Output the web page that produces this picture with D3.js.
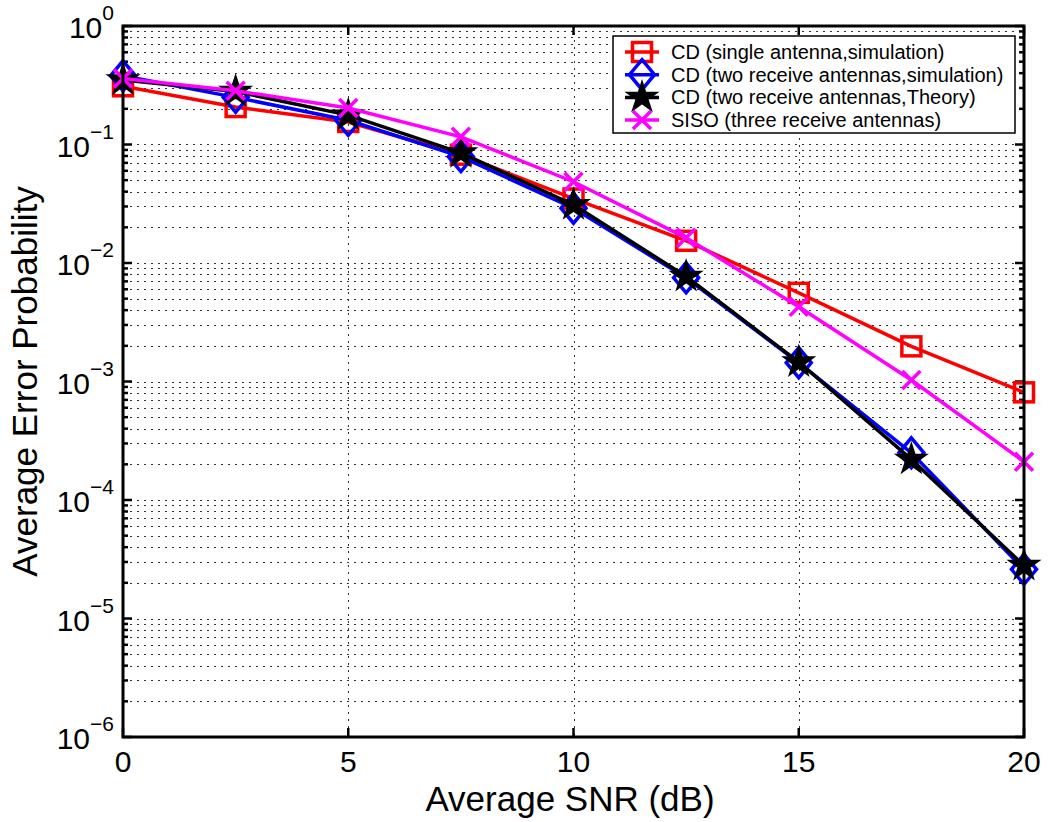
<!DOCTYPE html>
<html>
<head>
<meta charset="utf-8">
<script src="https://cdn.jsdelivr.net/npm/d3@7"></script>
<style>
  body { margin: 0; background: #fff; }
  svg text { font-family: "Liberation Sans", Arial, sans-serif; fill: #000; }
</style>
</head>
<body>
<div id="chart"></div>
<script>
// SNR values (dB)
var snr = [0, 2.5, 5, 7.5, 10, 12.5, 15, 17.5, 20];

// error probabilities
var cdSingle = [0.31, 0.207, 0.155, 0.082, 0.035, 0.0154, 0.0056, 0.00198, 0.00081];
var cdTwoSim = [0.38, 0.25, 0.16, 0.079, 0.029, 0.0075, 0.00144, 0.00025, 0.000026];
var cdTwoTheory = [0.35, 0.28, 0.177, 0.085, 0.031, 0.0077, 0.00146, 0.00022, 0.000028];
var sisoThree = [0.36, 0.284, 0.203, 0.116, 0.0485, 0.0163, 0.00428, 0.00103, 0.00021];

var xTicks = [0, 5, 10, 15, 20];
var yExps = [0, -1, -2, -3, -4, -5, -6];

var legendNames = ["CD (single antenna,simulation)", "CD (two receive antennas,simulation)",
                   "CD (two receive antennas,Theory)", "SISO (three receive antennas)"];

function drawChart(){
    var width = 1050, height = 822;
    var m = {left: 123, right: 26, top: 26, bottom: 85};
    var pw = width - m.left - m.right,
        ph = height - m.top - m.bottom;

    var svg = d3.select("#chart").append("svg")
        .attr("width", width)
        .attr("height", height);

    var x = d3.scaleLinear().domain([0, 20]).range([m.left, m.left + pw]);
    var y = d3.scaleLog().domain([1e-6, 1]).range([m.top + ph, m.top]);

    //minor log values for grid
    var minors = [];
    yExps.forEach(function(e){
        if (e == 0) return;
        for (var k = 2; k <= 9; k++) minors.push(k * Math.pow(10, e));
    });

    var grid = svg.append("g").attr("class", "grid")
        .attr("stroke", "#000").attr("stroke-width", 1)
        .attr("stroke-dasharray", "2,5").attr("opacity", 0.8);

    grid.selectAll(".hmin").data(minors.concat(yExps.map(function(e){ return Math.pow(10, e); })))
        .enter().append("line")
        .attr("x1", m.left).attr("x2", m.left + pw)
        .attr("y1", function(d){ return Math.round(y(d)) + 0.5; })
        .attr("y2", function(d){ return Math.round(y(d)) + 0.5; });

    grid.selectAll(".vmaj").data(xTicks.slice(1, -1))
        .enter().append("line")
        .attr("x1", function(d){ return Math.round(x(d)) + 0.5; })
        .attr("x2", function(d){ return Math.round(x(d)) + 0.5; })
        .attr("y1", m.top).attr("y2", m.top + ph);

    //ticks (inside, on all four sides)
    var ticks = svg.append("g").attr("stroke", "#000").attr("stroke-width", 2.5);
    xTicks.forEach(function(t){
        ticks.append("line").attr("x1", x(t)).attr("x2", x(t))
            .attr("y1", m.top + ph).attr("y2", m.top + ph - 9);
        ticks.append("line").attr("x1", x(t)).attr("x2", x(t))
            .attr("y1", m.top).attr("y2", m.top + 9);
    });
    yExps.forEach(function(e){
        var yy = y(Math.pow(10, e));
        ticks.append("line").attr("x1", m.left).attr("x2", m.left + 9).attr("y1", yy).attr("y2", yy);
        ticks.append("line").attr("x1", m.left + pw).attr("x2", m.left + pw - 9).attr("y1", yy).attr("y2", yy);
    });
    minors.forEach(function(v){
        var yy = y(v);
        ticks.append("line").attr("x1", m.left).attr("x2", m.left + 5).attr("y1", yy).attr("y2", yy);
        ticks.append("line").attr("x1", m.left + pw).attr("x2", m.left + pw - 5).attr("y1", yy).attr("y2", yy);
    });

    //tick labels
    svg.selectAll(".xlab").data(xTicks).enter().append("text")
        .attr("x", function(d){ return x(d); })
        .attr("y", m.top + ph + 35)
        .attr("text-anchor", "middle")
        .style("font-size", "30px")
        .text(function(d){ return d; });

    yExps.forEach(function(e){
        var yy = y(Math.pow(10, e));
        var t = svg.append("text")
            .attr("x", 114)
            .attr("y", yy + 12)
            .attr("text-anchor", "end")
            .style("font-size", "30px");
        t.append("tspan").text("10");
        t.append("tspan").attr("dy", -18).style("font-size", "21px")
            .text(e == 0 ? "0" : "\u2212" + (-e));
    });

    //axis titles
    svg.append("text")
        .attr("x", 570)
        .attr("y", 811)
        .attr("text-anchor", "middle")
        .style("font-size", "35px")
        .text("Average SNR (dB)");

    svg.append("text")
        .attr("transform", "translate(37," + (m.top + ph / 2) + ") rotate(-90)")
        .attr("text-anchor", "middle")
        .style("font-size", "35px")
        .text("Average Error Probability");

    //series
    var series = [
        {vals: cdSingle, color: "#ff0000", marker: "square"},
        {vals: cdTwoSim, color: "#0000ff", marker: "diamond"},
        {vals: cdTwoTheory, color: "#000000", marker: "star"},
        {vals: sisoThree, color: "#ff00ff", marker: "cross"}
    ];

    var line = d3.line()
        .x(function(d){ return x(d[0]); })
        .y(function(d){ return y(d[1]); });

    var plot = svg.append("g");

    series.forEach(function(s){
        var pts = snr.map(function(v, i){ return [v, s.vals[i]]; });
        plot.append("path")
            .attr("d", line(pts))
            .attr("fill", "none")
            .attr("stroke", s.color)
            .attr("stroke-width", 3.5);
        pts.forEach(function(p){
            drawMarker(plot, s.marker, x(p[0]), y(p[1]), s.color);
        });
    });

    //frame
    svg.append("rect")
        .attr("x", m.left).attr("y", m.top)
        .attr("width", pw).attr("height", ph)
        .attr("fill", "none").attr("stroke", "#000").attr("stroke-width", 3);

    //legend
    var lg = svg.append("g").attr("transform", "translate(613,36)");
    lg.append("rect")
        .attr("width", 402).attr("height", 97)
        .attr("fill", "#fff").attr("stroke", "#000").attr("stroke-width", 1.5);
    legendNames.forEach(function(name, i){
        var ly = 16 + i * 22.7;
        lg.append("line").attr("x1", 12).attr("x2", 46).attr("y1", ly).attr("y2", ly)
            .attr("stroke", series[i].color).attr("stroke-width", 3.5);
        drawMarker(lg, series[i].marker, 29, ly, series[i].color);
        lg.append("text")
            .attr("x", 58).attr("y", ly + 7)
            .style("font-size", "20px")
            .text(name);
    });
}

function drawMarker(g, type, cx, cy, color){
    if (type == "square") {
        g.append("rect")
            .attr("x", cx - 9.5).attr("y", cy - 9.5)
            .attr("width", 19).attr("height", 19)
            .attr("fill", "none").attr("stroke", color).attr("stroke-width", 3.5);
    } else if (type == "diamond") {
        g.append("path")
            .attr("d", "M" + cx + "," + (cy - 15) + "L" + (cx + 12.5) + "," + cy +
                       "L" + cx + "," + (cy + 15) + "L" + (cx - 12.5) + "," + cy + "Z")
            .attr("fill", "none").attr("stroke", color).attr("stroke-width", 3.5);
    } else if (type == "star") {
        var sym = d3.symbol().type(d3.symbolStar).size(260);
        g.append("path")
            .attr("d", sym())
            .attr("transform", "translate(" + cx + "," + cy + ")")
            .attr("fill", color).attr("stroke", color).attr("stroke-width", 2);
    } else if (type == "cross") {
        var r = 9;
        g.append("path")
            .attr("d", "M" + (cx - r) + "," + (cy - r) + "L" + (cx + r) + "," + (cy + r) +
                       "M" + (cx - r) + "," + (cy + r) + "L" + (cx + r) + "," + (cy - r))
            .attr("stroke", color).attr("stroke-width", 3.5);
    }
}

drawChart();
</script>
</body>
</html>
